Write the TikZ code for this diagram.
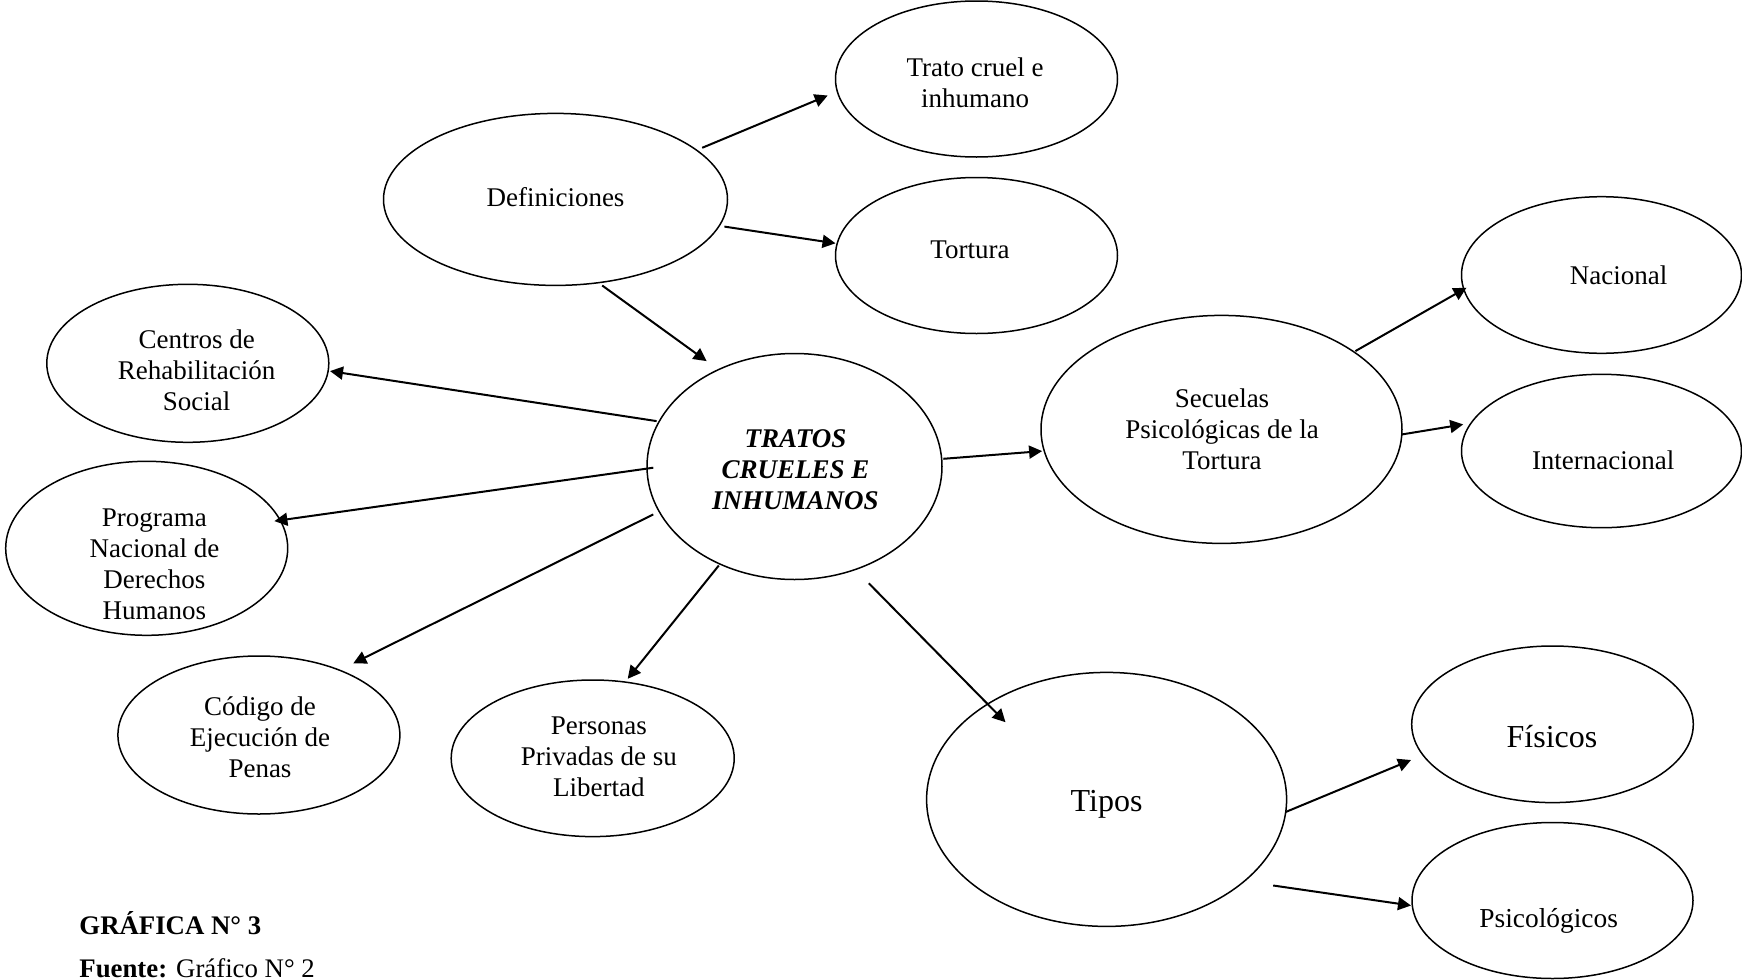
\documentclass[tikz,border=0pt]{standalone}
\usepackage{fontspec}
\setmainfont{Liberation Serif}
\usetikzlibrary{shapes.geometric,arrows.meta}
\begin{document}
\begin{tikzpicture}[x=0.5pt,y=-0.5pt,
 ell/.style={ellipse, draw, line width=0.75pt, inner sep=0pt},
 txt/.style={font=\fontsize{13.5}{15.5}\selectfont, align=center, inner sep=0pt},
 big/.style={font=\fontsize{16}{19}\selectfont, align=center, inner sep=0pt},
 conn/.style={-{Triangle[length=6.5pt,width=6.5pt]}, line width=1pt}]
\useasboundingbox (0,0) rectangle (1742,980);
% ellipses
\node[ell, minimum width=141pt, minimum height=78pt] (trato) at (976.5,79) {};
\node[ell, minimum width=141pt, minimum height=78pt] (tortura) at (976.5,255.5) {};
\node[ell, minimum width=172pt, minimum height=86pt] (defin) at (555.5,199.4) {};
\node[ell, minimum width=141pt, minimum height=79pt] (centros) at (187.8,363.3) {};
\node[ell, minimum width=141pt, minimum height=87pt] (programa) at (146.7,548.3) {};
\node[ell, minimum width=147.5pt, minimum height=113pt] (tratos) at (794.5,466.5) {};
\node[ell, minimum width=141pt, minimum height=79pt] (codigo) at (258.9,735) {};
\node[ell, minimum width=141.5pt, minimum height=78.3pt] (personas) at (592.7,758.3) {};
\node[ell, minimum width=180.5pt, minimum height=114pt] (secuelas) at (1221.5,429.4) {};
\node[ell, minimum width=140pt, minimum height=78.3pt] (nacional) at (1601.5,275) {};
\node[ell, minimum width=140pt, minimum height=76.7pt] (internac) at (1601.5,451) {};
\node[ell, minimum width=180pt, minimum height=127pt] (tipos) at (1106.6,799.4) {};
\node[ell, minimum width=140.8pt, minimum height=78.3pt] (fisicos) at (1552.5,724.3) {};
\node[ell, minimum width=140.5pt, minimum height=78pt] (psico) at (1552.5,900.5) {};
% texts
\node[txt] (tratoT) at (975,83) {Trato cruel e\\inhumano};
\node[txt] (torturaT) at (970,250) {Tortura};
\node[txt] (definT) at (555.5,196.7) {Definiciones};
\node[txt] (centrosT) at (196.7,370) {Centros de\\Rehabilitación\\Social};
\node[txt] (programaT) at (154.4,564.4) {Programa\\Nacional de\\Derechos\\Humanos};
\node[txt, font=\fontsize{13.5}{15.5}\selectfont\bfseries\itshape] (tratosT) at (795.5,470) {TRATOS\\CRUELES E\\INHUMANOS};
\node[txt] (codigoT) at (260,737.7) {Código de\\Ejecución de\\Penas};
\node[txt] (personasT) at (598.8,756.6) {Personas\\Privadas de su\\Libertad};
\node[txt] (secuelasT) at (1222,428.9) {Secuelas\\Psicológicas de la\\Tortura};
\node[txt] (nacionalT) at (1618.7,275.5) {Nacional};
\node[txt] (internacT) at (1603.2,460) {Internacional};
\node[big] (tiposT) at (1106.6,804.5) {Tipos};
\node[big] (fisicosT) at (1552,736.6) {Físicos};
\node[txt, font=\fontsize{13.7}{16}\selectfont] (psicoT) at (1548.7,921) {Psicológicos};
% caption
\node[anchor=base west, inner sep=0pt, font=\fontsize{13.4}{15}\selectfont\bfseries] (grafica) at (79,934) {GRÁFICA N° 3};
\node[anchor=base west, inner sep=0pt, font=\fontsize{13.4}{15}\selectfont] (fuente) at (79,977) {\textbf{Fuente:} Gráfico N° 2};
% arrow endpoints
\coordinate (a1s) at (702.2,147.8); \coordinate (a1e) at (827.7,95.5);
\coordinate (a2s) at (724.4,226.6); \coordinate (a2e) at (835.5,243.3);
\coordinate (a3s) at (602.2,285.5); \coordinate (a3e) at (706.6,361.1);
\coordinate (a4s) at (656.6,421.1); \coordinate (a4e) at (330,371.1);
\coordinate (a5s) at (653.3,467.7); \coordinate (a5e) at (274.4,521.1);
\coordinate (a6s) at (653.3,514.4); \coordinate (a6e) at (353.3,663.3);
\coordinate (a7s) at (718.8,565.5); \coordinate (a7e) at (627.7,678.8);
\coordinate (a8s) at (943.3,458.8); \coordinate (a8e) at (1042.1,451.1);
\coordinate (a9s) at (868.8,583.3); \coordinate (a9e) at (1005.5,722.2);
\coordinate (a10s) at (1355.4,351.1); \coordinate (a10e) at (1466.5,287.7);
\coordinate (a11s) at (1402.1,434.4); \coordinate (a11e) at (1463.2,424.4);
\coordinate (a12s) at (1285.4,812.1); \coordinate (a12e) at (1411,760);
\coordinate (a13s) at (1273.2,885.5); \coordinate (a13e) at (1411,905.5);
\foreach \i in {1,...,13} {\draw[conn] (a\i s) -- (a\i e);}
\end{tikzpicture}
\end{document}
